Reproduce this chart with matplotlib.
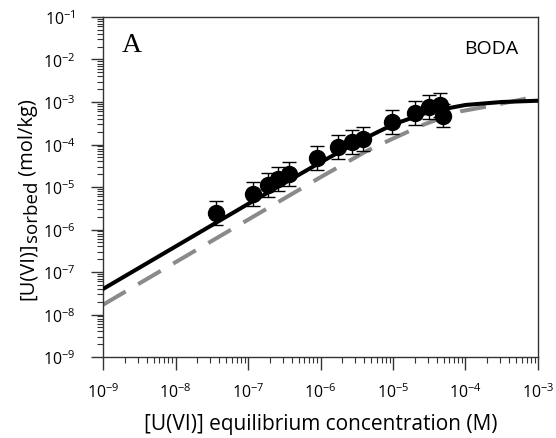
import numpy as np
import matplotlib
matplotlib.use("Agg")
import matplotlib.pyplot as plt
from matplotlib.ticker import LogLocator, FixedLocator, NullFormatter

plt.rcParams['font.family'] = ['Open Sans', 'DejaVu Sans']
plt.rcParams['mathtext.fontset'] = 'custom'
plt.rcParams['mathtext.rm'] = 'Open Sans'
plt.rcParams['mathtext.it'] = 'Open Sans:italic'

# measured sorption data (M, mol/kg)
conc = [3.6e-8, 1.17e-7, 1.9e-7, 2.6e-7, 3.7e-7, 9.0e-7, 1.74e-6, 2.7e-6,
        3.9e-6, 9.8e-6, 2.0e-5, 3.1e-5, 4.4e-5, 4.9e-5]
sorbed = [2.45e-6, 6.9e-6, 1.12e-5, 1.55e-5, 2.0e-5, 4.8e-5, 8.7e-5, 1.15e-4,
          1.35e-4, 3.4e-4, 5.5e-4, 7.6e-4, 8.5e-4, 4.7e-4]
err_dex = [0.28, 0.28, 0.28, 0.28, 0.28, 0.29, 0.28, 0.28,
           0.28, 0.28, 0.28, 0.28, 0.28, 0.27]

# model curves (log10 values)
fit_logx = [-9.0, -8.0, -7.0, -6.0, -5.5, -5.0, -4.5, -4.0, -3.5, -3.0]
fit_logy = [-7.40, -6.40, -5.40, -4.42, -3.95, -3.53, -3.23, -3.07, -3.00, -2.97]
pred_logx = [-9.0, -8.0, -7.0, -6.0, -5.36, -5.0, -4.56, -4.07, -3.62, -3.08]
pred_logy = [-7.77, -6.77, -5.77, -4.77, -4.15, -3.86, -3.52, -3.22, -3.08, -2.89]

x_ticks = [1e-9, 1e-8, 1e-7, 1e-6, 1e-5, 1e-4, 1e-3]
y_ticks = [1e-9, 1e-8, 1e-7, 1e-6, 1e-5, 1e-4, 1e-3, 1e-2, 1e-1]

conc = np.array(conc)
sorbed = np.array(sorbed)
err_dex = np.array(err_dex)
lo = sorbed - sorbed / 10**err_dex
hi = sorbed * 10**err_dex - sorbed

fig = plt.figure(figsize=(5.56, 4.39), dpi=100)
ax = fig.add_axes([0.1853, 0.1845, 0.7823, 0.7745])

ax.plot(10**np.array(pred_logx), 10**np.array(pred_logy), color='#8a8a8a', lw=2.9,
        dashes=(6.5, 3.6), dash_capstyle='butt', zorder=2)
ax.plot(10**np.array(fit_logx), 10**np.array(fit_logy), color='black', lw=2.9, zorder=3)
ax.errorbar(conc, sorbed, yerr=[lo, hi], fmt='o', color='black', ms=11.5,
            ecolor='black', elinewidth=1, capsize=4.7, capthick=1, zorder=4)

ax.set_xscale('log')
ax.set_yscale('log')
ax.set_xlim(1e-9, 1e-3)
ax.set_ylim(1e-9, 1e-1)
ax.xaxis.set_major_locator(FixedLocator(x_ticks))
ax.yaxis.set_major_locator(FixedLocator(y_ticks))
ax.xaxis.set_minor_locator(LogLocator(base=10, subs=np.arange(2, 10), numticks=10))
ax.yaxis.set_minor_locator(LogLocator(base=10, subs=np.arange(2, 10), numticks=10))
ax.xaxis.set_minor_formatter(NullFormatter())
ax.yaxis.set_minor_formatter(NullFormatter())

for s in ax.spines.values():
    s.set_color('#333333')
    s.set_linewidth(1)
ax.tick_params(which='major', direction='out', length=9, width=1, color='#333333',
               labelsize=11.5)
ax.tick_params(axis='y', which='major', pad=10.5)
ax.tick_params(axis='x', which='major', pad=9.5)
ax.tick_params(which='minor', direction='out', length=4, width=0.8, color='#333333')
ax.tick_params(top=False, right=False, which='both')

ax.set_xlabel('[U(VI)] equilibrium concentration (M)', fontsize=15, labelpad=8)

# y label built from pieces so the subscript stays large
fig.canvas.draw()
r = fig.canvas.get_renderer()
lab_x = 28 / 556
y0 = 1 - 300 / 439
parts = [('[U(VI)]', 14.5, 0.0), ('sorbed', 13.5, 4.0), (' (mol/kg)', 14.5, 0.0)]
for txt, size, shift in parts:
    t = fig.text(lab_x + shift / 556, y0, txt, rotation=90, fontsize=size,
                 ha='center', va='bottom')
    bb = t.get_window_extent(renderer=r)
    y0 += bb.height / fig.bbox.height

ax.text(0.044, 0.9, 'A', transform=ax.transAxes, family='Liberation Serif',
        fontsize=20)
ax.text(0.955, 0.894, 'BODA', transform=ax.transAxes, fontsize=14, ha='right')

fig.savefig('out.png', dpi=100)
